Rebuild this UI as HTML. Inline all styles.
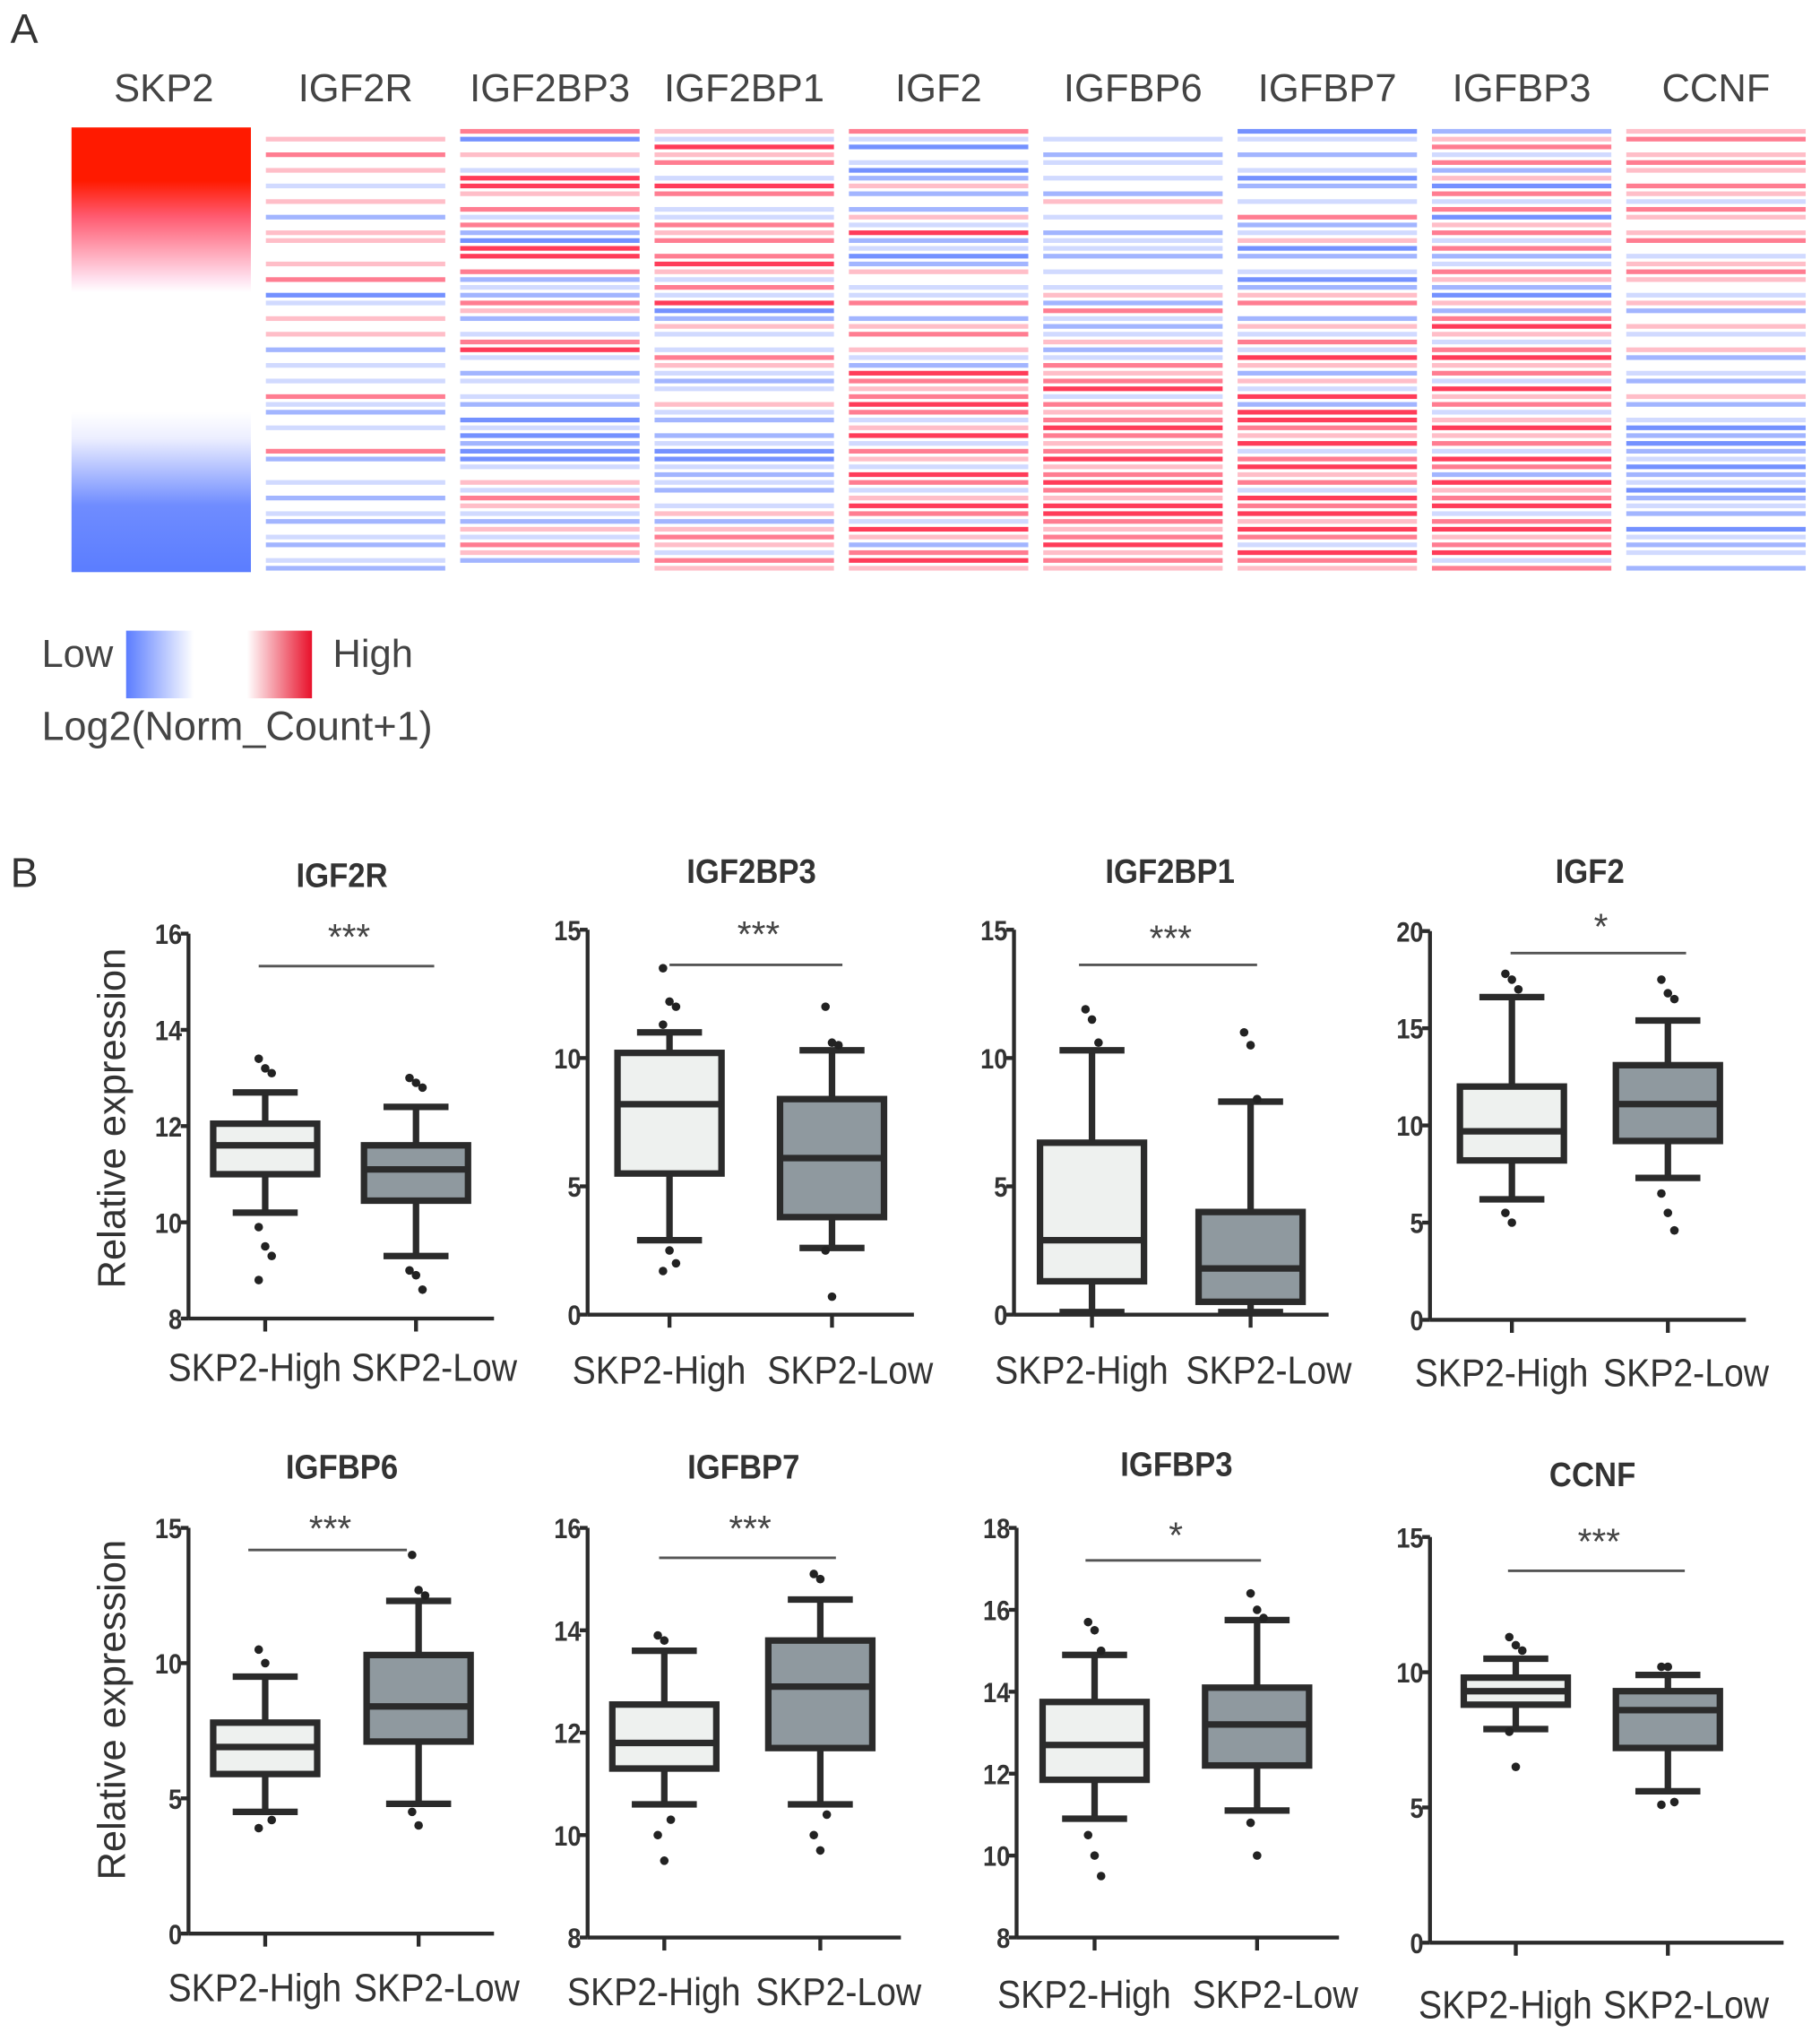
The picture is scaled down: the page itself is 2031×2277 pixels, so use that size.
<!DOCTYPE html>
<html><head><meta charset="utf-8">
<style>
html,body{margin:0;padding:0;background:#fff}
svg{display:block}
text{font-family:"Liberation Sans",sans-serif}
</style></head>
<body>
<svg id="fig" width="2031" height="2277" viewBox="0 0 1400 1569.6" xmlns="http://www.w3.org/2000/svg">
<defs>
<linearGradient id="skpGrad" x1="0" y1="0" x2="0" y2="1">
<stop offset="0" stop-color="#ff1a00"/><stop offset="0.12" stop-color="#ff1a00"/>
<stop offset="0.2" stop-color="#ff5a70"/><stop offset="0.34" stop-color="#ffe0ee"/>
<stop offset="0.37" stop-color="#ffffff"/><stop offset="0.64" stop-color="#ffffff"/>
<stop offset="0.7" stop-color="#eceeff"/><stop offset="0.85" stop-color="#6f8cff"/>
<stop offset="1" stop-color="#5b7dff"/></linearGradient>
<linearGradient id="lowGrad" x1="0" x2="1"><stop offset="0" stop-color="#5b7dff"/><stop offset="1" stop-color="#fff"/></linearGradient>
<linearGradient id="highGrad" x1="0" x2="1"><stop offset="0" stop-color="#fff"/><stop offset="1" stop-color="#e8102a"/></linearGradient>
</defs>
<text x="8" y="33" font-size="32" fill="#333">A</text>
<text x="8" y="682" font-size="32" fill="#333">B</text>
<g id="heat"></g>
<g>
<text x="32" y="513" font-size="30" fill="#444">Low</text>
<rect x="97" y="485" width="52" height="52" fill="url(#lowGrad)"/>
<rect x="190" y="485" width="50" height="52" fill="url(#highGrad)"/>
<text x="256" y="513" font-size="30" fill="#444">High</text>
<text x="32" y="569" font-size="31" fill="#444">Log2(Norm_Count+1)</text>
</g>
<g id="boxes"></g>
<text transform="translate(96,860) rotate(-90)" text-anchor="middle" font-size="30" fill="#333">Relative expression</text>
<text transform="translate(96,1315) rotate(-90)" text-anchor="middle" font-size="30" fill="#333">Relative expression</text>
</svg>
<script>
const NS="http://www.w3.org/2000/svg";
// ---------- heatmap data (values -3..3 per row, 57 rows) ----------
const heatGenes=["SKP2","IGF2R","IGF2BP3","IGF2BP1","IGF2","IGFBP6","IGFBP7","IGFBP3","CCNF"];
const heatIGF2R  =[0,1,0,2,0,1,0,-1,0,1,0,-2,0,1,1,0,0,1,0,2,0,-3,-1,0,1,0,1,0,-2,0,-1,0,-1,0,2,-1,-2,0,-1,0,0,2,-2,0,0,-1,0,-2,0,-1,-2,0,-1,-2,0,-1,-2];
const heatIGF2BP3=[2,-3,0,1,0,-1,3,3,1,0,2,-1,2,-2,-3,3,3,0,2,-2,-1,-2,2,1,-2,0,-1,2,3,-1,0,-2,-1,0,-1,-2,0,-3,-1,-3,-2,-3,-3,-1,0,1,-1,2,1,-1,-2,1,-1,2,1,-2,0];
const heatIGF2BP1=[1,-1,3,1,2,0,-1,3,2,0,-1,-1,2,1,2,0,2,3,1,-1,2,-1,3,-3,-2,1,-1,0,-1,2,1,-1,-2,-1,0,1,-1,-2,0,-2,-1,-3,-3,-1,-2,-1,-2,0,-1,1,-2,1,2,1,-1,2,1];
const heatIGF2=[2,-1,-3,0,-1,-3,-2,1,-2,0,-2,1,-1,3,-2,-1,-3,-2,1,0,-1,-1,2,0,-2,1,2,0,1,-1,-2,3,2,1,2,3,2,-1,1,3,-1,2,1,-1,3,2,-1,1,3,2,-1,3,1,-2,2,3,1];
const heatIGFBP6=[0,-1,0,-2,-1,0,-1,0,-2,1,0,-1,0,-2,-1,-1,-2,0,-1,0,-1,1,-2,2,-1,-2,-1,1,-2,-1,2,1,2,3,-1,2,1,2,3,2,1,2,3,1,2,3,2,1,3,3,2,1,2,3,1,2,1];
const heatIGFBP7=[-3,-1,0,-2,0,-1,-3,-2,0,-1,0,2,-2,-1,1,-3,-2,0,-1,-3,-2,1,2,0,-2,1,-1,2,-1,3,1,-2,1,-1,3,-2,3,3,2,1,3,-1,2,3,1,2,-1,3,2,3,1,3,2,-1,3,2,1];
const heatIGFBP3=[-2,1,2,-1,2,-2,1,-3,2,-1,2,-3,1,2,-1,2,-2,-1,2,1,-2,-3,1,-2,2,3,1,-1,2,3,1,2,-1,3,1,2,-1,1,3,1,2,-1,3,2,-2,3,1,2,3,-1,2,3,1,2,3,-1,2];
const heatCCNF=[1,2,0,1,2,1,0,2,1,-1,2,1,0,1,2,0,-1,1,2,1,0,-1,1,-2,0,1,-1,0,1,-2,0,-1,-2,0,1,-2,0,-1,-3,-2,-3,-2,-1,-3,-2,-1,-3,-2,-1,-2,0,-3,-1,-2,-1,0,-2];
const heatRows=[null,heatIGF2R,heatIGF2BP3,heatIGF2BP1,heatIGF2,heatIGFBP6,heatIGFBP7,heatIGFBP3,heatCCNF];

function colorOf(v){
  const t=Math.min(Math.abs(v)/3,1)*0.85;
  if(v>0){const r=255,g=Math.round(255-t*(255-26)),b=Math.round(255-t*(255-60));return `rgb(${r},${g},${b})`;}
  if(v<0){const r=Math.round(255-t*(255-91)),g=Math.round(255-t*(255-125));return `rgb(${r},${g},255)`;}
  return "#ffffff";
}
const heat=document.getElementById("heat");
const hx0=55,hstride=149.5,hw=138,hy0=98,hy1=440;
heatGenes.forEach((g,i)=>{
  const x=hx0+i*hstride;
  const t=document.createElementNS(NS,"text");
  t.setAttribute("x",x+hw/2+(i===0?2:0));t.setAttribute("y",78);
  t.setAttribute("text-anchor","middle");t.setAttribute("font-size","30");t.setAttribute("fill","#444");
  t.textContent=g;
  
  
  heat.appendChild(t);
  if(i===0){
    const r=document.createElementNS(NS,"rect");
    r.setAttribute("x",x);r.setAttribute("y",hy0);r.setAttribute("width",hw);r.setAttribute("height",hy1-hy0);
    r.setAttribute("fill","url(#skpGrad)");
    
    
    heat.appendChild(r);return;
  }
  const vals=heatRows[i];const rh=(hy1-hy0)/vals.length;
  vals.forEach((v,k)=>{
    const r=document.createElementNS(NS,"rect");
    r.setAttribute("x",x);r.setAttribute("y",hy0+k*rh+rh*0.2);
    r.setAttribute("width",hw);r.setAttribute("height",rh*0.6);
    r.setAttribute("fill",colorOf(v));
    
    
    heat.appendChild(r);
  });
});

// ---------- boxplot data ----------
const boxTitles=["IGF2R","IGF2BP3","IGF2BP1","IGF2","IGFBP6","IGFBP7","IGFBP3","CCNF"];
const boxSig=["***","***","***","*","***","***","*","***"];
const boxTicks=[[8,10,12,14,16],[0,5,10,15],[0,5,10,15],[0,5,10,15,20],[0,5,10,15],[8,10,12,14,16],[8,10,12,14,16,18],[0,5,10,15]];
// [whiskerLow, q1, median, q3, whiskerHigh]
const highStats=[[10.2,11.0,11.6,12.05,12.7],[2.9,5.5,8.2,10.2,11.0],[0.1,1.3,2.9,6.7,10.3],[6.2,8.2,9.7,12.0,16.6],[4.5,5.9,6.9,7.8,9.5],[10.6,11.3,11.8,12.55,13.6],[10.9,11.85,12.7,13.75,14.9],[7.9,8.8,9.3,9.8,10.5]];
const lowStats=[[9.3,10.45,11.1,11.6,12.4],[2.6,3.8,6.1,8.4,10.3],[0.1,0.5,1.8,4.0,8.3],[7.3,9.2,11.1,13.1,15.4],[4.8,7.1,8.4,10.3,12.3],[10.6,11.7,12.9,13.8,14.6],[11.1,12.2,13.2,14.1,15.75],[5.6,7.2,8.6,9.3,9.9]];
const highOutliers=[[13.4,13.2,13.1,9.9,9.5,9.3,8.8],[13.5,12.2,12.0,11.3,2.5,2.0,1.7],[11.9,11.5,10.6],[17.8,17.5,17.0,5.5,5.0],[10.5,10.0,4.2,3.9],[13.9,13.8,10.3,10.0,9.5],[15.7,15.5,15.0,10.5,10.0,9.5],[11.3,11.0,10.8,7.8,6.5]];
const lowOutliers=[[13.0,12.9,12.8,9.0,8.9,8.6],[12.0,10.6,10.5,2.5,0.7],[11.0,10.5,8.4],[17.5,16.8,16.5,6.5,5.5,4.6],[14.0,12.7,12.5,4.5,4.0],[15.1,15.0,10.4,10.0,9.7],[16.4,16.0,15.8,10.8,10.0],[10.2,10.2,5.2,5.1]];

// layout (positions, not data)
const layout=[
 {ax:145,yTop:718,yBot:1014,xEnd:380,g1:204,g2:320,tx:263,ty:682,ly:743,l1:199,l2:334,sy:730,lab:1062},
 {ax:452,yTop:715,yBot:1011,xEnd:703,g1:515,g2:640,tx:578,ty:679,ly:742,l1:515,l2:648,sy:728,lab:1064},
 {ax:780,yTop:715,yBot:1011,xEnd:1022,g1:840,g2:962,tx:900,ty:679,ly:742,l1:830,l2:967,sy:731,lab:1064},
 {ax:1100,yTop:716,yBot:1015,xEnd:1343,g1:1163,g2:1283,tx:1223,ty:679,ly:733,l1:1162,l2:1297,sy:722,lab:1066},
 {ax:145,yTop:1175,yBot:1487,xEnd:380,g1:204,g2:322,tx:263,ty:1137,ly:1192,l1:191,l2:313,sy:1185,lab:1539},
 {ax:452,yTop:1175,yBot:1490,xEnd:693,g1:511,g2:631,tx:572,ty:1137,ly:1198,l1:507,l2:643,sy:1185,lab:1542},
 {ax:782,yTop:1175,yBot:1490,xEnd:1030,g1:842,g2:967,tx:905,ty:1135,ly:1200,l1:835,l2:970,sy:1190,lab:1544},
 {ax:1100,yTop:1182,yBot:1494,xEnd:1372,g1:1166,g2:1283,tx:1225,ty:1143,ly:1208,l1:1160,l2:1296,sy:1195,lab:1552}
];
const boxes=document.getElementById("boxes");
function el(tag,attrs,parent){const e=document.createElementNS(NS,tag);for(const k in attrs)e.setAttribute(k,attrs[k]);parent.appendChild(e);return e;}
const stroke="#2b2b2b";
boxTitles.forEach((title,i)=>{
  const L=layout[i];const ticks=boxTicks[i];
  const vmin=ticks[0],vmax=ticks[ticks.length-1];
  const y=v=>L.yBot-(v-vmin)/(vmax-vmin)*(L.yBot-L.yTop);
  const g=el("g",{},boxes);
  
  
  const t=el("text",{x:L.tx,y:L.ty,"text-anchor":"middle","font-size":"26","font-weight":"bold",fill:"#333",transform:`translate(${L.tx},0) scale(0.92,1) translate(${-L.tx},0)`},g);
  t.textContent=title;
  
  
  const ya=el("line",{x1:L.ax,y1:L.yTop,x2:L.ax,y2:L.yBot,stroke:stroke,"stroke-width":3},g);
  
  
  const xa=el("line",{x1:L.ax,y1:L.yBot,x2:L.xEnd,y2:L.yBot,stroke:stroke,"stroke-width":3},g);
  
  
  ticks.forEach(v=>{
    const tl=el("line",{x1:L.ax-6,y1:y(v),x2:L.ax,y2:y(v),stroke:stroke,"stroke-width":3},g);
    
    
    const tx=el("text",{x:L.ax-5,y:y(v)+8,"text-anchor":"end","font-size":"22","font-weight":"bold",fill:"#333",transform:`translate(${L.ax-5},0) scale(0.85,1) translate(${-(L.ax-5)},0)`},g);
    tx.textContent=v;
    
    
  });
  [[L.g1,"SKP2-High",highStats[i],highOutliers[i],"#eef1ef",-8],[L.g2,"SKP2-Low",lowStats[i],lowOutliers[i],"#8f999f",14]].forEach(([cx,lab,s,outs,fill,shift])=>{
    const xt=el("line",{x1:cx,y1:L.yBot,x2:cx,y2:L.yBot+10,stroke:stroke,"stroke-width":3},g);
    
    
    const lx=cx+shift;
    const lt=el("text",{x:lx,y:L.lab,"text-anchor":"middle","font-size":"30",fill:"#333",transform:`translate(${lx},0) scale(0.9,1) translate(${-lx},0)`},g);
    lt.textContent=lab;
    
    
    const wl=el("line",{x1:cx,y1:y(s[0]),x2:cx,y2:y(s[4]),stroke:stroke,"stroke-width":5},g);
    
    
    [s[0],s[4]].forEach(v=>{
      const c=el("line",{x1:cx-25,y1:y(v),x2:cx+25,y2:y(v),stroke:stroke,"stroke-width":5},g);
      
      
    });
    const b=el("rect",{x:cx-40,y:y(s[3]),width:80,height:y(s[1])-y(s[3]),fill:fill,stroke:stroke,"stroke-width":5},g);
    
    
    const m=el("line",{x1:cx-40,y1:y(s[2]),x2:cx+40,y2:y(s[2]),stroke:stroke,"stroke-width":5},g);
    
    
    outs.forEach((v,k)=>{
      const off=((k%3)-1)*5;
      const d=el("circle",{cx:cx+off,cy:y(v),r:3.3,fill:"#222"},g);
      
      
    });
  });
  const sl=el("line",{x1:L.l1,y1:L.ly,x2:L.l2,y2:L.ly,stroke:"#555","stroke-width":2},g);
  
  
  const st=el("text",{x:(L.l1+L.l2)/2+2,y:L.sy,"text-anchor":"middle","font-size":"28",fill:"#444"},g);
  st.textContent=boxSig[i];
  
  
});
</script>
</body></html>
